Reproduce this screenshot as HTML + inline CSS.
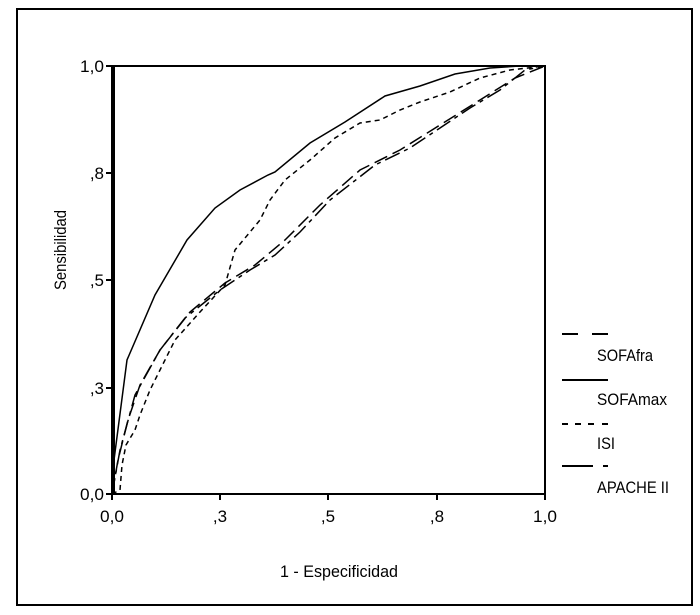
<!DOCTYPE html>
<html><head><style>body{margin:0;background:#fff}svg{display:block}text{font-family:"Liberation Sans Narrow","Liberation Sans",sans-serif;font-size:17px;fill:#000}</style></head>
<body><svg width="700" height="615" viewBox="0 0 700 615">
<rect x="17" y="9" width="675" height="596" fill="none" stroke="#000" stroke-width="2"/>
<rect x="112" y="66" width="433" height="428" fill="none" stroke="#000" stroke-width="2"/>
<line x1="113" y1="66" x2="113" y2="494" stroke="#000" stroke-width="4"/>
<g stroke="#000" stroke-width="2">
<line x1="106" y1="66" x2="112" y2="66"/><line x1="106" y1="173" x2="112" y2="173"/><line x1="106" y1="280" x2="112" y2="280"/><line x1="106" y1="388" x2="112" y2="388"/><line x1="106" y1="494" x2="112" y2="494"/>
<line x1="112" y1="494" x2="112" y2="500"/><line x1="220" y1="494" x2="220" y2="500"/><line x1="328" y1="494" x2="328" y2="500"/><line x1="437" y1="494" x2="437" y2="500"/><line x1="545" y1="494" x2="545" y2="500"/>
</g>
<g text-anchor="end"><text x="104" y="72" textLength="24" lengthAdjust="spacingAndGlyphs">1,0</text><text x="104" y="179">,8</text><text x="104" y="286">,5</text><text x="104" y="394">,3</text><text x="104" y="500" textLength="24" lengthAdjust="spacingAndGlyphs">0,0</text></g>
<g text-anchor="middle"><text x="112" y="522" textLength="24" lengthAdjust="spacingAndGlyphs">0,0</text><text x="220" y="522">,3</text><text x="328" y="522">,5</text><text x="437" y="522">,8</text><text x="545" y="522" textLength="24" lengthAdjust="spacingAndGlyphs">1,0</text>
<text x="339" y="577" textLength="118" lengthAdjust="spacingAndGlyphs">1 - Especificidad</text>
<text transform="translate(66,250) rotate(-90)" textLength="80" lengthAdjust="spacingAndGlyphs">Sensibilidad</text></g>
<g fill="none" stroke="#000" stroke-width="1.5">
<polyline points="112,494 114,460 127,360 155,295 187,240 215,208 240,190 268,175 275,172 310,143 345,122 385,96 420,86 455,74 490,68 520,66 545,66"/>
<polyline stroke-dasharray="16,5,4,5" points="112,494 120,450 135,395 160,350 185,318 220,290 250,270 275,255 300,232 330,200 375,165 410,148 440,128 470,108 500,90 525,70 545,66"/>
<polyline stroke-dasharray="14,6" points="112,494 118,460 128,420 140,385 160,350 190,312 225,283 255,265 285,240 320,205 360,170 400,150 440,125 480,100 515,78 545,66"/>
<polyline stroke-dasharray="5,4" points="112,494 120,490 122,465 126,445 135,430 140,415 150,390 160,370 175,340 200,312 225,285 235,250 260,220 270,200 285,180 310,160 335,138 360,123 380,120 400,110 420,102 450,92 480,78 510,70 545,66"/>
</g>
<g stroke="#000" stroke-width="2">
<line x1="562" y1="334" x2="578" y2="334"/><line x1="592" y1="334" x2="608" y2="334"/>
<line x1="562" y1="380" x2="608" y2="380"/>
<line x1="562" y1="424" x2="568" y2="424"/><line x1="575" y1="424" x2="581" y2="424"/><line x1="588" y1="424" x2="594" y2="424"/><line x1="602" y1="424" x2="608" y2="424"/>
<line x1="562" y1="466" x2="593" y2="466"/><line x1="603" y1="466" x2="608" y2="466"/>
</g>
<text x="597" y="361" textLength="56" lengthAdjust="spacingAndGlyphs">SOFAfra</text><text x="597" y="405" textLength="70" lengthAdjust="spacingAndGlyphs">SOFAmax</text><text x="597" y="449" textLength="18" lengthAdjust="spacingAndGlyphs">ISI</text><text x="597" y="493" textLength="72" lengthAdjust="spacingAndGlyphs">APACHE II</text>
</svg></body></html>
